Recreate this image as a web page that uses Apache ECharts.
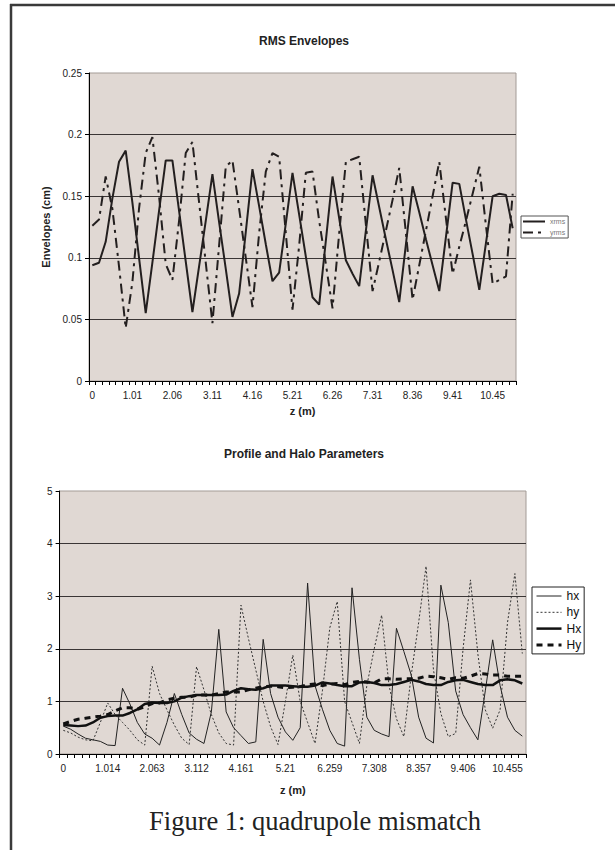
<!DOCTYPE html>
<html><head><meta charset="utf-8">
<script src="https://cdn.jsdelivr.net/npm/echarts@6/dist/echarts.min.js"></script>
<style>html,body{margin:0;padding:0;background:#fff}#c{width:615px;height:850px}</style>
</head><body><div id="c"></div>
<script>
// z grid (m)
const zValues = [0, 0.1398, 0.3147, 0.4895, 0.6643, 0.8392, 1.0140, 1.1888, 1.3637, 1.5385,
  1.7133, 1.8882, 2.0630, 2.2378, 2.4126, 2.5875, 2.7623, 2.9371, 3.1120, 3.2868,
  3.4616, 3.6365, 3.8113, 3.9861, 4.1609, 4.3358, 4.5106, 4.6854, 4.8603, 5.0351,
  5.2099, 5.3848, 5.5596, 5.7344, 5.9092, 6.0841, 6.2589, 6.4337, 6.6086, 6.7834,
  6.9582, 7.1331, 7.3079, 7.4827, 7.6575, 7.8324, 8.0072, 8.1820, 8.3569, 8.5317,
  8.7065, 8.8814, 9.0562, 9.2310, 9.4058, 9.5807, 9.7555, 9.9303, 10.1052, 10.2800,
  10.4548, 10.6297, 10.8045, 10.9793];

// RMS envelopes (cm)
const xrms = [0.094, 0.096, 0.113, 0.148, 0.178, 0.187, 0.145, 0.100, 0.055, 0.096,
  0.138, 0.179, 0.179, 0.138, 0.097, 0.056, 0.093, 0.130, 0.168, 0.129,
  0.091, 0.052, 0.071, 0.121, 0.172, 0.142, 0.111, 0.081, 0.088, 0.128,
  0.169, 0.135, 0.101, 0.068, 0.062, 0.114, 0.166, 0.132, 0.098, 0.087,
  0.077, 0.122, 0.167, 0.141, 0.115, 0.090, 0.064, 0.111, 0.158, 0.137,
  0.115, 0.094, 0.073, 0.117, 0.161, 0.160, 0.131, 0.103, 0.074, 0.112,
  0.150, 0.152, 0.151, 0.124];
const yrms = [0.126, 0.131, 0.166, 0.140, 0.093, 0.043, 0.080, 0.140, 0.185, 0.198,
  0.150, 0.095, 0.082, 0.130, 0.185, 0.194, 0.145, 0.096, 0.047, 0.110,
  0.174, 0.179, 0.140, 0.100, 0.060, 0.120, 0.170, 0.185, 0.182, 0.120,
  0.058, 0.110, 0.169, 0.170, 0.130, 0.095, 0.059, 0.120, 0.178, 0.180,
  0.182, 0.127, 0.073, 0.097, 0.122, 0.147, 0.173, 0.120, 0.066, 0.094,
  0.122, 0.150, 0.178, 0.132, 0.087, 0.109, 0.130, 0.152, 0.174, 0.126,
  0.079, 0.082, 0.085, 0.152];

// Profile and halo parameters
const hx = [0.53, 0.47, 0.38, 0.30, 0.27, 0.24, 0.17, 0.16, 1.25, 0.95,
  0.60, 0.38, 0.30, 0.17, 0.60, 1.15, 0.75, 0.40, 0.28, 0.20,
  0.80, 2.37, 0.80, 0.50, 0.35, 0.20, 0.23, 2.18, 1.15, 0.70,
  0.42, 0.26, 0.50, 3.25, 1.30, 0.85, 0.45, 0.20, 0.15, 3.16,
  1.80, 0.70, 0.45, 0.38, 0.33, 2.39, 1.95, 1.50, 0.70, 0.30,
  0.21, 3.21, 2.50, 1.20, 0.75, 0.50, 0.27, 1.20, 2.17, 1.30,
  0.70, 0.45, 0.34];
const hy = [0.45, 0.40, 0.32, 0.27, 0.25, 0.60, 0.97, 0.75, 0.60, 0.45,
  0.27, 0.17, 1.67, 1.15, 0.84, 0.55, 0.30, 0.18, 1.66, 1.22,
  0.75, 0.40, 0.20, 0.17, 2.83, 2.20, 1.60, 1.00, 0.52, 0.18,
  1.00, 1.88, 1.00, 0.60, 0.20, 1.20, 2.40, 2.90, 1.00, 0.60,
  0.20, 1.30, 2.00, 2.64, 1.30, 0.67, 0.33, 1.50, 2.50, 3.57,
  1.60, 0.77, 0.33, 0.39, 2.00, 3.31, 1.90, 0.84, 0.49, 0.84,
  2.50, 3.43, 1.91];
const Hx = [0.55, 0.54, 0.53, 0.54, 0.60, 0.69, 0.72, 0.73, 0.73, 0.78,
  0.85, 0.95, 0.98, 0.97, 0.97, 1.00, 1.07, 1.10, 1.12, 1.12,
  1.12, 1.12, 1.13, 1.20, 1.25, 1.23, 1.22, 1.25, 1.30, 1.30,
  1.30, 1.29, 1.28, 1.28, 1.30, 1.36, 1.34, 1.31, 1.29, 1.29,
  1.36, 1.37, 1.35, 1.31, 1.31, 1.33, 1.37, 1.41, 1.38, 1.33,
  1.31, 1.31, 1.37, 1.40, 1.41, 1.37, 1.33, 1.31, 1.31, 1.40,
  1.42, 1.40, 1.34];
const Hy = [0.57, 0.62, 0.66, 0.68, 0.70, 0.72, 0.75, 0.82, 0.88, 0.88,
  0.85, 0.90, 0.96, 0.97, 1.03, 1.06, 1.08, 1.08, 1.12, 1.12,
  1.12, 1.15, 1.18, 1.18, 1.18, 1.22, 1.25, 1.28, 1.29, 1.28,
  1.26, 1.27, 1.28, 1.32, 1.33, 1.30, 1.33, 1.34, 1.32, 1.36,
  1.38, 1.37, 1.35, 1.43, 1.43, 1.42, 1.43, 1.43, 1.44, 1.48,
  1.47, 1.45, 1.42, 1.45, 1.44, 1.48, 1.53, 1.52, 1.50, 1.50,
  1.48, 1.48, 1.48];

const zBottom = zValues.slice(0, hx.length);

const FONT = '"Liberation Sans", Arial, sans-serif';
const INK = '#231f1f';

const chart = echarts.init(document.getElementById('c'), null, {renderer: 'svg', width: 615, height: 850});

function xAxisCfg(gridIndex, data, decimals, nameGap) {
  return {
    type: 'category', gridIndex: gridIndex, data: data, boundaryGap: true,
    axisLine: {show: true, lineStyle: {color: '#000', width: 1}},
    axisTick: {show: true, interval: 0, length: 4, lineStyle: {color: '#000', width: 1}},
    axisLabel: {interval: 5, margin: 9, fontSize: 10, color: '#222', fontFamily: FONT,
      formatter: v => String(+Number(v).toFixed(decimals))},
    splitLine: {show: false},
    name: 'z (m)', nameLocation: 'middle', nameGap: nameGap,
    nameTextStyle: {fontSize: 11, fontWeight: 'bold', color: '#222', fontFamily: FONT}
  };
}
function yAxisCfg(gridIndex, max, interval, name) {
  const c = {
    type: 'value', gridIndex: gridIndex, min: 0, max: max, interval: interval,
    axisLine: {show: true, lineStyle: {color: '#000', width: 1}},
    axisTick: {show: true, length: 4, lineStyle: {color: '#000', width: 1}},
    axisLabel: {margin: 7, fontSize: 10, color: '#222', fontFamily: FONT},
    splitLine: {show: true, showMinLine: false, showMaxLine: false, lineStyle: {color: '#3a3535', width: 1}}
  };
  if (name) {
    c.name = name; c.nameLocation = 'middle'; c.nameRotate = 90; c.nameGap = 32;
    c.nameTextStyle = {fontSize: 11, fontWeight: 'bold', color: '#222', fontFamily: FONT};
  }
  return c;
}

const option = {
  animation: false,
  backgroundColor: '#fff',
  title: [
    {text: 'RMS Envelopes', left: 304, top: 35, textAlign: 'center', padding: 0,
      textStyle: {fontSize: 12, fontWeight: 'bold', color: '#222', fontFamily: FONT}},
    {text: 'Profile and Halo Parameters', left: 304, top: 448, textAlign: 'center', padding: 0,
      textStyle: {fontSize: 12, fontWeight: 'bold', color: '#222', fontFamily: FONT}},
    {text: 'Figure 1: quadrupole mismatch', left: 315, top: 807, textAlign: 'center', padding: 0,
      textStyle: {fontSize: 26.5, fontWeight: 'normal', color: '#222', fontFamily: '"Liberation Serif", "Times New Roman", serif'}}
  ],
  grid: [
    {left: 89, top: 73, width: 427, height: 308, show: true, backgroundColor: '#e0d8d3',
      borderColor: '#a39b96', borderWidth: 1},
    {left: 59.6, top: 491, width: 466.4, height: 263, show: true, backgroundColor: '#e0d8d3',
      borderColor: '#a39b96', borderWidth: 1}
  ],
  xAxis: [xAxisCfg(0, zValues, 2, 24), xAxisCfg(1, zBottom, 3, 30)],
  yAxis: [yAxisCfg(0, 0.25, 0.05, 'Envelopes (cm)'), yAxisCfg(1, 5, 1, null)],
  legend: [
    {data: [{name: 'xrms', lineStyle: {width: 2}}, {name: 'yrms', lineStyle: {width: 2}}],
      orient: 'vertical', left: 521, top: 216, selectedMode: false,
      itemWidth: 22, itemHeight: 8, itemGap: 4, padding: [2, 3, 2, 1],
      borderColor: '#555', borderWidth: 1, backgroundColor: '#fff',
      itemStyle: {opacity: 0},
      textStyle: {fontSize: 7, color: '#777', fontFamily: FONT}},
    {data: [{name: 'hx', lineStyle: {width: 1}}, {name: 'hy', lineStyle: {width: 1}},
            {name: 'Hx', lineStyle: {width: 2.5}}, {name: 'Hy', lineStyle: {width: 3}}],
      orient: 'vertical', left: 532, top: 587, selectedMode: false,
      itemWidth: 25, itemHeight: 14, itemGap: 4.3, padding: [3, 3, 3, 3],
      borderColor: '#222', borderWidth: 1, backgroundColor: '#fff',
      itemStyle: {opacity: 0},
      textStyle: {fontSize: 12, color: '#111', fontFamily: FONT}}
  ],
  graphic: [
    {type: 'line', shape: {x1: 11, y1: 4, x2: 11, y2: 850}, style: {stroke: '#3a3a3a', lineWidth: 2.5}, silent: true},
    {type: 'line', shape: {x1: 10, y1: 5, x2: 615, y2: 5}, style: {stroke: '#3a3a3a', lineWidth: 2.5}, silent: true}
  ],
  series: [
    {name: 'xrms', type: 'line', xAxisIndex: 0, yAxisIndex: 0, data: xrms, symbol: 'none',
      lineStyle: {color: INK, width: 2}, itemStyle: {color: INK}},
    {name: 'yrms', type: 'line', xAxisIndex: 0, yAxisIndex: 0, data: yrms, symbol: 'none',
      lineStyle: {color: INK, width: 2, type: [10, 5, 3, 5]}, itemStyle: {color: INK}},
    {name: 'hx', type: 'line', xAxisIndex: 1, yAxisIndex: 1, data: hx, symbol: 'none',
      lineStyle: {color: '#222', width: 1}, itemStyle: {color: '#222'}},
    {name: 'hy', type: 'line', xAxisIndex: 1, yAxisIndex: 1, data: hy, symbol: 'none',
      lineStyle: {color: '#333', width: 1, type: [2, 2]}, itemStyle: {color: '#333'}},
    {name: 'Hx', type: 'line', xAxisIndex: 1, yAxisIndex: 1, data: Hx, symbol: 'none',
      lineStyle: {color: '#111', width: 2.5}, itemStyle: {color: '#111'}},
    {name: 'Hy', type: 'line', xAxisIndex: 1, yAxisIndex: 1, data: Hy, symbol: 'none',
      lineStyle: {color: '#111', width: 3, type: [6, 5]}, itemStyle: {color: '#111'}}
  ]
};
chart.setOption(option);
</script>
</body></html>
